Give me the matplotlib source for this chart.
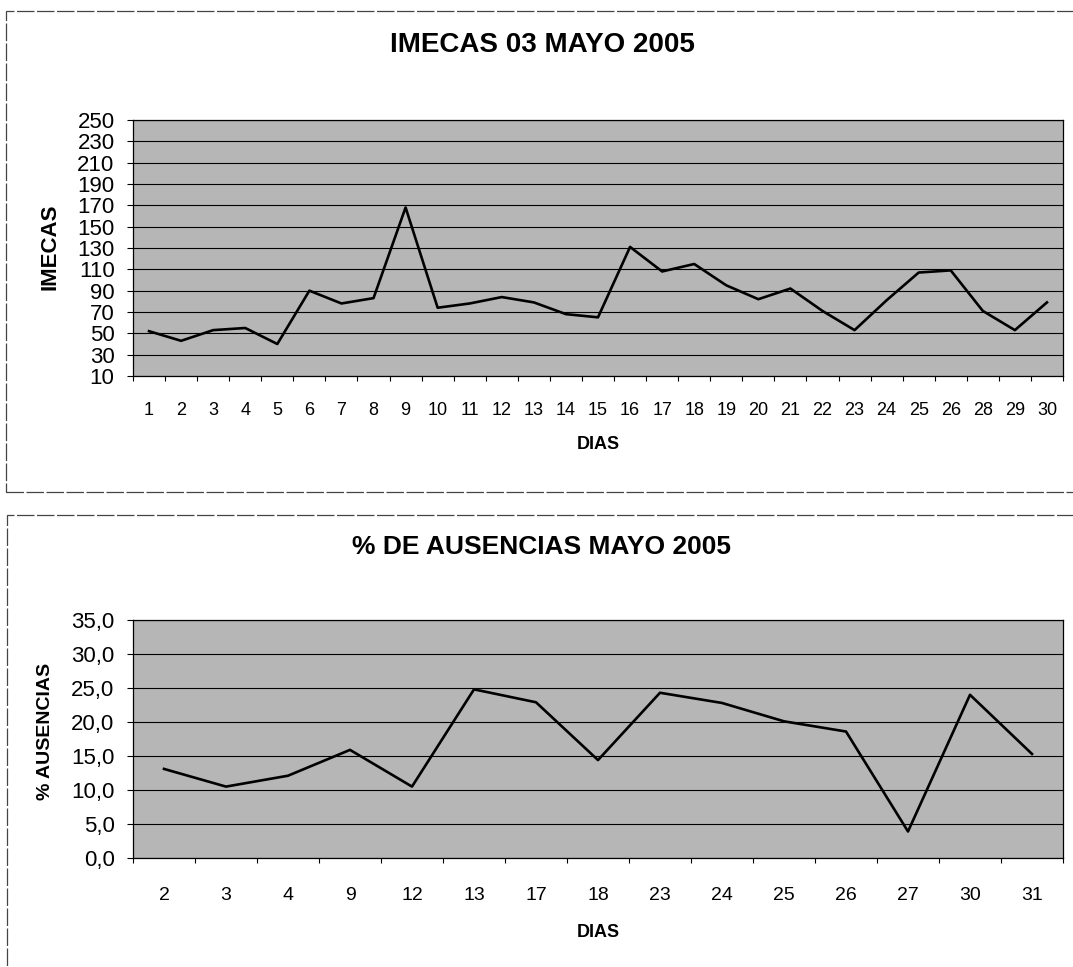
import numpy as np
import matplotlib
matplotlib.use("Agg")
import matplotlib.pyplot as plt
from matplotlib.patches import Rectangle
from matplotlib.ticker import FuncFormatter

plt.rcParams['font.family'] = ['Liberation Sans', 'DejaVu Sans']

# ---- data ----
imecas_dias = ['1', '2', '3', '4', '5', '6', '7', '8', '9', '10', '11', '12', '13',
               '14', '15', '16', '17', '18', '19', '20', '21', '22', '23', '24',
               '25', '26', '28', '29', '30']
imecas_vals = [52, 43, 53, 55, 40, 90, 78, 83, 168, 74, 78, 84, 79, 68, 65,
               131, 108, 115, 95, 82, 92, 71, 53, 81, 107, 109, 71, 53, 79]

aus_dias = ['2', '3', '4', '9', '12', '13', '17', '18', '23', '24', '25', '26',
            '27', '30', '31']
aus_vals = [13.1, 10.5, 12.1, 15.9, 10.5, 24.8, 22.9, 14.4, 24.3, 22.8, 20.1,
            18.6, 3.9, 24.0, 15.3]

title_top = 'IMECAS 03 MAYO 2005'
title_bot = '% DE AUSENCIAS MAYO 2005'

W, H = 1073, 967
fig = plt.figure(figsize=(W / 100, H / 100), dpi=100)
fig.patch.set_facecolor('white')


def fx(px):
    return px / W


def fy(py):
    return 1 - py / H


# chart frames
frame_kw = dict(fill=False, edgecolor='#444444', linewidth=0.9,
                linestyle=(0, (14, 2)), transform=fig.transFigure)
fig.patches.append(Rectangle((fx(6), fy(492)), fx(1076 - 6), fy(11) - fy(492), **frame_kw))
fig.patches.append(Rectangle((fx(7), fy(1000)), fx(1076 - 7), fy(515) - fy(1000), **frame_kw))

bg = '#b6b6b6'


def style_axes(ax, labels):
    n = len(labels)
    ax.set_facecolor(bg)
    ax.set_xlim(-0.5, n - 0.5)
    ax.set_xticks(np.arange(n + 1) - 0.5)
    ax.set_xticklabels([''] * (n + 1))
    ax.set_xticks(np.arange(n), minor=True)
    ax.tick_params(axis='x', which='major', length=3.6, width=0.8,
                   direction='out', color='black')
    ax.tick_params(axis='y', which='major', length=4.3, width=0.8,
                   direction='out', color='black', pad=9)
    ax.grid(axis='y', color='black', linewidth=0.8)
    ax.set_axisbelow(True)
    for s in ax.spines.values():
        s.set_color('black')
        s.set_linewidth(0.9)


# ---- top chart ----
ax1 = fig.add_axes([fx(133), fy(376), fx(1063 - 133), fy(120) - fy(376)])
style_axes(ax1, imecas_dias)
ax1.plot(np.arange(len(imecas_vals)), imecas_vals, color='black', linewidth=1.9)
ax1.set_ylim(10, 250)
ax1.set_yticks(np.arange(10, 251, 20))
ax1.set_xticklabels(imecas_dias, minor=True, fontsize=13)
ax1.tick_params(axis='x', which='minor', length=0, pad=18.5)
for t in ax1.get_yticklabels():
    t.set_fontsize(16)

fig.text(fx(542), fy(52), title_top, ha='center', va='baseline',
         fontsize=20, fontweight='bold')
fig.text(fx(598), fy(449), 'DIAS', ha='center', va='baseline',
         fontsize=13, fontweight='bold')
fig.text(fx(50), fy(247), 'IMECAS', ha='center', va='center', rotation=90,
         fontsize=16, fontweight='bold')

# ---- bottom chart ----
ax2 = fig.add_axes([fx(133), fy(858), fx(1063 - 133), fy(620) - fy(858)])
style_axes(ax2, aus_dias)
ax2.plot(np.arange(len(aus_vals)), aus_vals, color='black', linewidth=1.9)
ax2.set_ylim(0, 35)
ax2.set_yticks(np.arange(0, 35.1, 5))
ax2.yaxis.set_major_formatter(FuncFormatter(lambda v, p: f'{v:.1f}'.replace('.', ',')))
ax2.set_xticklabels(aus_dias, minor=True, fontsize=14)
ax2.tick_params(axis='x', which='minor', length=0, pad=21)
for t in ax2.get_yticklabels():
    t.set_fontsize(16)

fig.text(fx(541), fy(554), title_bot, ha='center', va='baseline',
         fontsize=19, fontweight='bold')
fig.text(fx(598), fy(937), 'DIAS', ha='center', va='baseline',
         fontsize=13, fontweight='bold')
fig.text(fx(46), fy(731), '% AUSENCIAS', ha='center', va='center', rotation=90,
         fontsize=14, fontweight='bold')

fig.savefig('out.png', dpi=100)
